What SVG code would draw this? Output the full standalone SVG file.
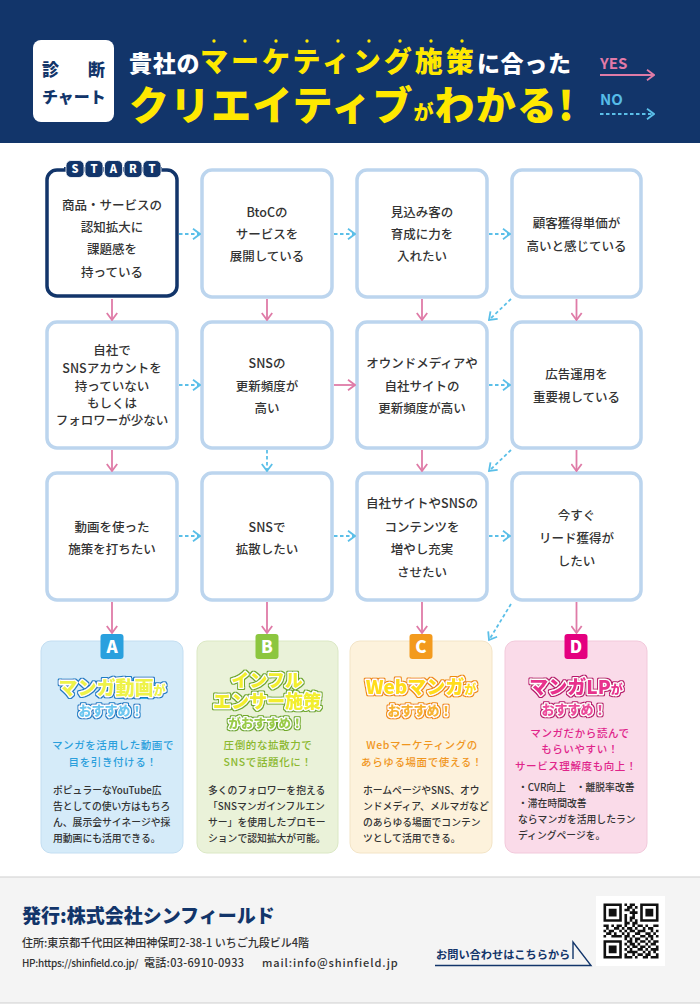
<svg xmlns="http://www.w3.org/2000/svg" width="700" height="1005" viewBox="0 0 700 1005">
<defs>
<style>
.jp{font-family:"Noto Sans CJK JP","Noto Sans",sans-serif}
.nt{font-family:"Noto Sans CJK JP","Noto Sans",sans-serif;font-size:12.5px;fill:#333;text-anchor:middle;font-weight:500}
.box{fill:#fff;stroke:#bcd5ee;stroke-width:3.5}
.yes{stroke:#df7ba7;stroke-width:1.8;fill:none;marker-end:url(#mY)}
.no{stroke:#5bbfe8;stroke-width:1.8;stroke-dasharray:3.5 2.5;fill:none;marker-end:url(#mN)}
.body{font-family:"Noto Sans CJK JP","Noto Sans",sans-serif;font-size:9.8px;fill:#333;font-weight:500}
.sub{font-family:"Noto Sans CJK JP","Noto Sans",sans-serif;font-size:10.5px;letter-spacing:0.6px;text-anchor:middle;font-weight:500}
.ttl{font-family:"Noto Sans CJK JP","Noto Sans",sans-serif;font-weight:900;text-anchor:middle;stroke:#fff;stroke-width:2.6px;paint-order:stroke;stroke-linejoin:round}
.badge{font-family:"Noto Sans CJK JP","Noto Sans",sans-serif;font-weight:900;font-size:17px;fill:#fff;text-anchor:middle}
.st{font-family:"Noto Sans CJK JP","Noto Sans",sans-serif;font-weight:900;font-size:11px;fill:#fff;text-anchor:middle}
</style>
<marker id="mY" viewBox="0 0 12 12" refX="11" refY="6" markerWidth="12" markerHeight="12" markerUnits="userSpaceOnUse" orient="auto"><path d="M4,0.8 L11,6 L4,11.2" fill="none" stroke="#df7ba7" stroke-width="1.8"/></marker>
<marker id="mN" viewBox="0 0 12 12" refX="11" refY="6" markerWidth="12" markerHeight="12" markerUnits="userSpaceOnUse" orient="auto"><path d="M4,0.8 L11,6 L4,11.2" fill="none" stroke="#5bbfe8" stroke-width="1.8"/></marker>
<filter id="oA" x="-10%" y="-30%" width="120%" height="160%"><feMorphology in="SourceAlpha" operator="dilate" radius="1.3" result="d"/><feFlood flood-color="#1f7cc4"/><feComposite in2="d" operator="in" result="o"/><feMerge><feMergeNode in="o"/><feMergeNode in="SourceGraphic"/></feMerge></filter>
<filter id="oB" x="-10%" y="-30%" width="120%" height="160%"><feMorphology in="SourceAlpha" operator="dilate" radius="1.3" result="d"/><feFlood flood-color="#6fa82a"/><feComposite in2="d" operator="in" result="o"/><feMerge><feMergeNode in="o"/><feMergeNode in="SourceGraphic"/></feMerge></filter>
<filter id="oC" x="-10%" y="-30%" width="120%" height="160%"><feMorphology in="SourceAlpha" operator="dilate" radius="1.3" result="d"/><feFlood flood-color="#ee8a10"/><feComposite in2="d" operator="in" result="o"/><feMerge><feMergeNode in="o"/><feMergeNode in="SourceGraphic"/></feMerge></filter>
<filter id="oD" x="-10%" y="-30%" width="120%" height="160%"><feMorphology in="SourceAlpha" operator="dilate" radius="1.3" result="d"/><feFlood flood-color="#b8166c"/><feComposite in2="d" operator="in" result="o"/><feMerge><feMergeNode in="o"/><feMergeNode in="SourceGraphic"/></feMerge></filter>
</defs>

<rect x="0" y="0" width="700" height="1005" fill="#fff"/>

<!-- Header -->
<g id="header">
<rect x="0" y="0" width="700" height="143" fill="#12356a"/>
<rect x="33" y="40" width="81" height="82" rx="8" fill="#fff"/>
<text class="jp" x="42" y="76" font-size="17" font-weight="900" fill="#12356a" letter-spacing="6">診　断</text>
<text class="jp" x="42" y="103" font-size="16" font-weight="900" fill="#12356a">チャート</text>
<g fill="#ffe800">
<circle cx="214" cy="41" r="1.7"/><circle cx="245" cy="41" r="1.7"/><circle cx="276" cy="41" r="1.7"/><circle cx="307" cy="41" r="1.7"/><circle cx="338" cy="41" r="1.7"/><circle cx="369" cy="41" r="1.7"/><circle cx="400" cy="41" r="1.7"/><circle cx="431" cy="41" r="1.7"/><circle cx="462" cy="41" r="1.7"/>
</g>
<text class="jp" x="129" y="72" font-size="23" font-weight="900" fill="#fff" letter-spacing="0.7">貴社の<tspan fill="#ffe800" font-size="28" letter-spacing="3">マーケティング施策</tspan><tspan>に合った</tspan></text>
<text class="jp" x="129" y="120" font-weight="900" fill="#ffe800" letter-spacing="1.1"><tspan font-size="40">クリエイティブ</tspan><tspan font-size="20">が</tspan><tspan font-size="40">わかる!</tspan></text>
<text class="jp" x="600" y="69" font-size="15" font-weight="700" fill="#e27aa8">YES</text>
<line x1="600" y1="75" x2="654" y2="75" class="yes"/>
<text class="jp" x="600" y="105" font-size="15" font-weight="700" fill="#56bce8">NO</text>
<line x1="600" y1="114" x2="654" y2="114" class="no"/>
</g>

<!-- Nodes -->
<g id="n-start">
<rect x="47" y="170" width="130" height="126" rx="10" fill="#fff" stroke="#12356a" stroke-width="3.5"/>
<rect x="64" y="167" width="98" height="4" fill="#12356a"/>
<g fill="#12356a" stroke="#fff" stroke-width="0.8">
<rect x="66" y="160.5" width="18" height="17" rx="5"/><rect x="85" y="160.5" width="18" height="17" rx="5"/><rect x="104.5" y="160.5" width="18" height="17" rx="5"/><rect x="124" y="160.5" width="18" height="17" rx="5"/><rect x="143" y="160.5" width="18" height="17" rx="5"/>
</g>
<text class="st" x="75" y="173">S</text><text class="st" x="94" y="173">T</text><text class="st" x="113.5" y="173">A</text><text class="st" x="133" y="173">R</text><text class="st" x="152" y="173">T</text>
<text class="nt" x="112" y="210">商品・サービスの</text>
<text class="nt" x="112" y="232">認知拡大に</text>
<text class="nt" x="112" y="254">課題感を</text>
<text class="nt" x="112" y="277">持っている</text>
</g>
<g id="n-btoc">
<rect class="box" x="202" y="170" width="130" height="127" rx="10"/>
<text class="nt" x="267" y="217">BtoCの</text>
<text class="nt" x="267" y="239">サービスを</text>
<text class="nt" x="267" y="261">展開している</text>
</g>
<g id="n-mikomi">
<rect class="box" x="357" y="170" width="130" height="127" rx="10"/>
<text class="nt" x="422" y="217">見込み客の</text>
<text class="nt" x="422" y="239">育成に力を</text>
<text class="nt" x="422" y="261">入れたい</text>
</g>
<g id="n-cpa">
<rect class="box" x="512" y="170" width="129" height="127" rx="10"/>
<text class="nt" x="576.5" y="228">顧客獲得単価が</text>
<text class="nt" x="576.5" y="251">高いと感じている</text>
</g>

<g id="n-sns-account">
<rect class="box" x="47" y="322" width="130" height="126" rx="10"/>
<text class="nt" x="112" y="355">自社で</text>
<text class="nt" x="112" y="373">SNSアカウントを</text>
<text class="nt" x="112" y="391">持っていない</text>
<text class="nt" x="112" y="408">もしくは</text>
<text class="nt" x="112" y="425">フォロワーが少ない</text>
</g>
<g id="n-sns-freq">
<rect class="box" x="202" y="322" width="130" height="126" rx="10"/>
<text class="nt" x="267" y="368">SNSの</text>
<text class="nt" x="267" y="391">更新頻度が</text>
<text class="nt" x="267" y="413">高い</text>
</g>
<g id="n-owned">
<rect class="box" x="357" y="322" width="130" height="126" rx="10"/>
<text class="nt" x="422" y="368">オウンドメディアや</text>
<text class="nt" x="422" y="391">自社サイトの</text>
<text class="nt" x="422" y="413">更新頻度が高い</text>
</g>
<g id="n-ads">
<rect class="box" x="512" y="322" width="129" height="126" rx="10"/>
<text class="nt" x="576.5" y="379">広告運用を</text>
<text class="nt" x="576.5" y="402">重要視している</text>
</g>

<g id="n-video">
<rect class="box" x="47" y="473" width="130" height="127" rx="10"/>
<text class="nt" x="112" y="532">動画を使った</text>
<text class="nt" x="112" y="554">施策を打ちたい</text>
</g>
<g id="n-sns-spread">
<rect class="box" x="202" y="473" width="130" height="127" rx="10"/>
<text class="nt" x="267" y="532">SNSで</text>
<text class="nt" x="267" y="554">拡散したい</text>
</g>
<g id="n-content">
<rect class="box" x="357" y="473" width="130" height="127" rx="10"/>
<text class="nt" x="422" y="508">自社サイトやSNSの</text>
<text class="nt" x="422" y="532">コンテンツを</text>
<text class="nt" x="422" y="554">増やし充実</text>
<text class="nt" x="422" y="577">させたい</text>
</g>
<g id="n-lead">
<rect class="box" x="512" y="473" width="129" height="127" rx="10"/>
<text class="nt" x="576.5" y="520">今すぐ</text>
<text class="nt" x="576.5" y="543">リード獲得が</text>
<text class="nt" x="576.5" y="566">したい</text>
</g>

<!-- Connectors -->
<g id="connectors">
<line class="no" x1="179" y1="234" x2="200" y2="234"/>
<line class="no" x1="334" y1="234" x2="355" y2="234"/>
<line class="no" x1="489" y1="234" x2="510" y2="234"/>
<line class="yes" x1="112" y1="299" x2="112" y2="320"/>
<line class="yes" x1="267" y1="299" x2="267" y2="320"/>
<line class="yes" x1="422" y1="299" x2="422" y2="320"/>
<line class="yes" x1="576.5" y1="299" x2="576.5" y2="320"/>
<line class="no" x1="511" y1="299" x2="489" y2="320"/>
<line class="no" x1="179" y1="385" x2="200" y2="385"/>
<line class="yes" x1="334" y1="385" x2="355" y2="385"/>
<line class="no" x1="489" y1="385" x2="510" y2="385"/>
<line class="yes" x1="112" y1="450" x2="112" y2="471"/>
<line class="no" x1="267" y1="450" x2="267" y2="471"/>
<line class="yes" x1="422" y1="450" x2="422" y2="471"/>
<line class="yes" x1="576.5" y1="450" x2="576.5" y2="471"/>
<line class="no" x1="511" y1="450" x2="489" y2="471"/>
<line class="no" x1="179" y1="536" x2="200" y2="536"/>
<line class="no" x1="334" y1="536" x2="355" y2="536"/>
<line class="no" x1="489" y1="536" x2="510" y2="536"/>
<line class="yes" x1="112" y1="602" x2="112" y2="633"/>
<line class="yes" x1="267" y1="602" x2="267" y2="633"/>
<line class="yes" x1="422" y1="602" x2="422" y2="633"/>
<line class="yes" x1="576.5" y1="602" x2="576.5" y2="633"/>
<line class="no" x1="511" y1="604" x2="489" y2="640"/>
</g>

<!-- Results -->
<g id="result-a">
<rect x="41" y="641" width="142" height="212" rx="10" fill="#d5ebf9" stroke="#c3def2" stroke-width="1"/>
<rect x="100.5" y="634" width="23" height="25" rx="3" fill="#29a0de"/>
<text class="badge" x="112" y="653">A</text>
<rect x="117" y="678" width="38" height="21" rx="2" fill="#37b0ea"/>
<text class="ttl" x="112" y="695" filter="url(#oA)" fill="#eef24a"><tspan font-size="19">マンガ動画</tspan><tspan font-size="12">が</tspan></text>
<text class="ttl" x="111" y="715" font-size="13" filter="url(#oA)" fill="#6cc6f0">おすすめ！</text>
<text class="sub" x="113" y="749" fill="#2a9fdc">マンガを活用した動画で</text>
<text class="sub" x="113" y="766" fill="#2a9fdc">目を引き付ける！</text>
<text class="body" x="53" y="794">ポピュラーなYouTube広</text>
<text class="body" x="53" y="810">告としての使い方はもちろ</text>
<text class="body" x="53" y="826">ん、展示会サイネージや採</text>
<text class="body" x="53" y="842">用動画にも活用できる。</text>
</g>
<g id="result-b">
<rect x="197" y="641" width="141" height="212" rx="10" fill="#eaf2d9" stroke="#dbe8c4" stroke-width="1"/>
<rect x="255.5" y="634" width="23" height="25" rx="3" fill="#8cc63f"/>
<text class="badge" x="267" y="653">B</text>
<text class="ttl" x="267" y="687" font-size="18" filter="url(#oB)" fill="#f2ee2e">インフル</text>
<text class="ttl" x="267" y="708" font-size="18" filter="url(#oB)" fill="#f2ee2e">エンサー施策</text>
<text class="ttl" x="266" y="728" font-size="12.5" filter="url(#oB)" fill="#9acb4a">がおすすめ！</text>
<text class="sub" x="268" y="749" fill="#8ab82e">圧倒的な拡散力で</text>
<text class="sub" x="268" y="766" fill="#8ab82e">SNSで話題化に！</text>
<text class="body" x="208" y="794">多くのフォロワーを抱える</text>
<text class="body" x="208" y="810">「SNSマンガインフルエン</text>
<text class="body" x="208" y="826">サー」を使用したプロモー</text>
<text class="body" x="208" y="842">ションで認知拡大が可能。</text>
</g>
<g id="result-c">
<rect x="350" y="641" width="142" height="212" rx="10" fill="#fdf2dc" stroke="#f3e4c6" stroke-width="1"/>
<rect x="409.5" y="634" width="23" height="25" rx="3" fill="#f39a1d"/>
<text class="badge" x="421" y="653">C</text>
<text class="ttl" x="421" y="694" filter="url(#oC)" fill="#ffdc1e"><tspan font-size="19">Webマンガ</tspan><tspan font-size="12">が</tspan></text>
<text class="ttl" x="420" y="715" font-size="13" filter="url(#oC)" fill="#f7b233">おすすめ！</text>
<text class="sub" x="422" y="749" fill="#f0961e">Webマーケティングの</text>
<text class="sub" x="422" y="766" fill="#f0961e">あらゆる場面で使える！</text>
<text class="body" x="363" y="794">ホームページやSNS、オウ</text>
<text class="body" x="363" y="810">ンドメディア、メルマガなど</text>
<text class="body" x="363" y="826">のあらゆる場面でコンテン</text>
<text class="body" x="363" y="842">ツとして活用できる。</text>
</g>
<g id="result-d">
<rect x="505" y="641" width="142" height="212" rx="10" fill="#fadbe9" stroke="#f2c9db" stroke-width="1"/>
<rect x="564.5" y="634" width="23" height="25" rx="3" fill="#e4007f"/>
<text class="badge" x="576" y="653">D</text>
<text class="ttl" x="576" y="694" filter="url(#oD)" fill="#e8308c"><tspan font-size="19">マンガLP</tspan><tspan font-size="12">が</tspan></text>
<text class="ttl" x="574" y="714" font-size="13" filter="url(#oD)" fill="#ec4c9a">おすすめ！</text>
<text class="sub" x="580" y="737" fill="#e0248a">マンガだから読んで</text>
<text class="sub" x="580" y="753" fill="#e0248a">もらいやすい！</text>
<text class="sub" x="576" y="770" fill="#e0248a">サービス理解度も向上！</text>
<text class="body" x="518" y="791">・CVR向上　・離脱率改善</text>
<text class="body" x="518" y="807">・滞在時間改善</text>
<text class="body" x="518" y="823">ならマンガを活用したラン</text>
<text class="body" x="518" y="839">ディングページを。</text>
</g>

<!-- Footer -->
<g id="footer">
<rect x="0" y="877" width="700" height="126" fill="#f4f4f4"/>
<line x1="0" y1="877" x2="700" y2="877" stroke="#cfcfcf" stroke-width="1.2"/>
<line x1="0" y1="1003" x2="700" y2="1003" stroke="#cfcfcf" stroke-width="1"/>
<text class="jp" x="22" y="923" font-size="19" font-weight="900" fill="#12356a">発行:株式会社シンフィールド</text>
<text class="jp" x="22" y="947" font-size="11" font-weight="500" fill="#333">住所:東京都千代田区神田神保町2-38-1 いちご九段ビル4階</text>
<text class="jp" x="22" y="967" font-size="10" font-weight="500" fill="#333" letter-spacing="-0.3">HP:https://shinfield.co.jp/</text>
<text class="jp" x="144" y="967" font-size="11" font-weight="500" fill="#333" letter-spacing="0.3">電話:03-6910-0933</text>
<text class="jp" x="262" y="967" font-size="11" font-weight="500" fill="#333" letter-spacing="0.9">mail:info@shinfield.jp</text>
<text class="jp" x="436" y="959" font-size="11.2" font-weight="700" fill="#12356a">お問い合わせはこちらから</text>
<path d="M435,965.5 H591 L573,942 V959" fill="none" stroke="#12356a" stroke-width="1.4"/>
<rect x="596" y="896" width="69" height="70" fill="#fff"/>
<g transform="translate(603.5,903.5) scale(2.62)">
<path fill="none" stroke="#111" stroke-width="1" d="M0 0.5h7M8 0.5h1M10 0.5h2M14 0.5h7
M0 1.5h1M6 1.5h1M9 1.5h2M12 1.5h1M14 1.5h1M20 1.5h1
M0 2.5h1M2 2.5h3M6 2.5h1M8 2.5h2M11 2.5h1M14 2.5h1M16 2.5h3M20 2.5h1
M0 3.5h1M2 3.5h3M6 3.5h1M10 3.5h3M14 3.5h1M16 3.5h3M20 3.5h1
M0 4.5h1M2 4.5h3M6 4.5h1M8 4.5h1M11 4.5h1M14 4.5h1M16 4.5h3M20 4.5h1
M0 5.5h1M6 5.5h1M8 5.5h1M10 5.5h2M14 5.5h1M20 5.5h1
M0 6.5h7M8 6.5h1M10 6.5h1M12 6.5h1M14 6.5h7
M8 7.5h2M11 7.5h2
M0 8.5h2M3 8.5h1M5 8.5h2M8 8.5h1M11 8.5h1M13 8.5h2M16 8.5h1M19 8.5h2
M1 9.5h1M4 9.5h2M7 9.5h1M9 9.5h2M12 9.5h1M15 9.5h1M17 9.5h2
M0 10.5h1M2 10.5h2M6 10.5h1M8 10.5h1M10 10.5h2M13 10.5h3M18 10.5h1M20 10.5h1
M1 11.5h2M4 11.5h1M7 11.5h1M9 11.5h1M12 11.5h2M16 11.5h2M19 11.5h1
M0 12.5h1M3 12.5h4M8 12.5h2M11 12.5h1M14 12.5h2M17 12.5h2M20 12.5h1
M8 13.5h1M10 13.5h1M12 13.5h2M16 13.5h1M18 13.5h1
M0 14.5h7M9 14.5h2M12 14.5h1M14 14.5h2M17 14.5h1M19 14.5h2
M0 15.5h1M6 15.5h1M8 15.5h1M10 15.5h2M13 15.5h1M16 15.5h1M18 15.5h2
M0 16.5h1M2 16.5h3M6 16.5h1M9 16.5h1M11 16.5h2M14 16.5h2M17 16.5h1M20 16.5h1
M0 17.5h1M2 17.5h3M6 17.5h1M8 17.5h1M10 17.5h1M13 17.5h2M16 17.5h1M18 17.5h3
M0 18.5h1M2 18.5h3M6 18.5h1M9 18.5h4M15 18.5h1M17 18.5h1M19 18.5h1
M0 19.5h1M6 19.5h1M8 19.5h1M11 19.5h1M13 19.5h2M16 19.5h2M20 19.5h1
M0 20.5h7M8 20.5h3M12 20.5h1M15 20.5h2M18 20.5h3"/>
</g>
</g>
</svg>
